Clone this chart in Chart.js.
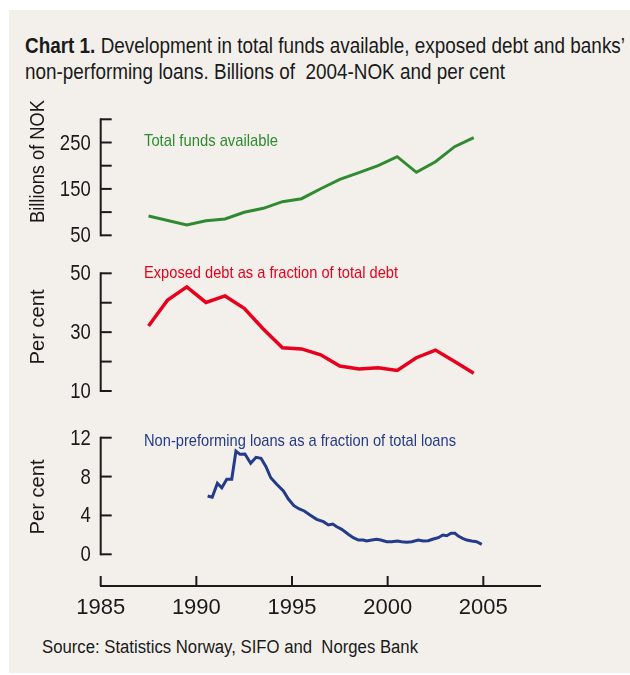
<!DOCTYPE html>
<html>
<head>
<meta charset="utf-8">
<script src="https://cdn.jsdelivr.net/npm/chart.js@4.4.0/dist/chart.umd.min.js"></script>
<style>
  html, body { margin: 0; padding: 0; background: #ffffff; }
  #panel { position: absolute; left: 9px; top: 10px; width: 621px; height: 663px; background: #f3f0eb; }
  #chart { position: absolute; left: 0; top: 0; }
  .txt { position: absolute; white-space: nowrap; color: #1a1a1a; transform-origin: 0 0;
         font-family: 'Liberation Sans', Arial, sans-serif; }
  #title1 { left: 25px; top: 32.7px; font-size: 22px; line-height: 26px; }
  #title2 { left: 25px; top: 58.7px; font-size: 22px; line-height: 26px; }
  #source { left: 41.7px; top: 637px; font-size: 18px; line-height: 20px; }
</style>
</head>
<body>
<div id="panel"></div>
<div id="title1" class="txt" data-w="600"><b>Chart 1.</b> Development in total funds available, exposed debt and banks’</div>
<div id="title2" class="txt" data-w="480">non-performing loans. Billions of&nbsp; 2004-NOK and per cent</div>
<div id="source" class="txt" data-w="376">Source: Statistics Norway, SIFO and&nbsp; Norges Bank</div>
<canvas id="chart" width="630" height="675"></canvas>
<script>
// ---------------- data ----------------
const X_TICKS = [1985, 1990, 1995, 2000, 2005];

const FUNDS_YEARS = [1987.5, 1989.5, 1990.5, 1991.5, 1992.5, 1993.5, 1994.5, 1995.5, 1996.5,
                     1997.5, 1998.5, 1999.5, 2000.5, 2001.5, 2002.5, 2003.5, 2004.5];
const TOTAL_FUNDS = [91.6, 72.2, 81.5, 85.1, 99.6, 108.2, 122.4, 128.9, 150.4,
                     170.7, 184.9, 200.0, 219.4, 185.8, 208.6, 241.0, 260.3];

const DEBT_YEARS = [1987.5, 1988.5, 1989.5, 1990.5, 1991.5, 1992.5, 1993.5, 1994.5, 1995.5,
                    1996.5, 1997.5, 1998.5, 1999.5, 2000.5, 2001.5, 2002.5, 2003.5, 2004.5];
const EXPOSED_DEBT = [32.1, 40.9, 45.4, 40.1, 42.3, 38.1, 31.1, 24.7, 24.3,
                      22.3, 18.5, 17.5, 17.9, 17.0, 21.3, 23.9, 20.0, 16.0];

const NPL_YEARS = [1990.59, 1990.83, 1991.10, 1991.33, 1991.59, 1991.85, 1992.07, 1992.28, 1992.54,
                   1992.84, 1993.12, 1993.38, 1993.64, 1993.89, 1994.20, 1994.55, 1994.81, 1995.10,
                   1995.38, 1995.64, 1995.94, 1996.29, 1996.64, 1996.90, 1997.13, 1997.34, 1997.60,
                   1997.94, 1998.20, 1998.47, 1998.73, 1998.90, 1999.17, 1999.43, 1999.64, 1999.95,
                   2000.21, 2000.50, 2000.73, 2001.00, 2001.26, 2001.60, 2001.86, 2002.12, 2002.39,
                   2002.65, 2002.88, 2003.09, 2003.31, 2003.52, 2003.69, 2003.92, 2004.13, 2004.39,
                   2004.65, 2004.92];
const NPL_SHARE = [6.0, 5.87, 7.31, 6.85, 7.72, 7.72, 10.63, 10.29, 10.32,
                   9.37, 9.98, 9.88, 9.02, 7.88, 7.2, 6.51, 5.69, 5.0,
                   4.66, 4.46, 4.04, 3.6, 3.36, 3.02, 3.12, 2.84, 2.57,
                   2.06, 1.71, 1.47, 1.47, 1.37, 1.47, 1.54, 1.47, 1.3,
                   1.3, 1.37, 1.3, 1.23, 1.3, 1.47, 1.37, 1.4, 1.57,
                   1.71, 1.99, 1.91, 2.16, 2.16, 1.88, 1.65, 1.47, 1.37,
                   1.3, 1.03];

const TOP_TICKS = [50, 100, 150, 200, 250, 300];
const TOP_LABELS = [50, 150, 250];
const MID_TICKS = [10, 20, 30, 40, 50];
const MID_LABELS = [10, 30, 50];
const BOT_TICKS = [0, 4, 8, 12];
const BOT_LABELS = [0, 4, 8, 12];

const SERIES_NAMES = ['Total funds available', 'Exposed debt as a fraction of total debt',
                      'Non-preforming loans as a fraction of total loans'];
const AXIS_TITLES = ['Billions of NOK', 'Per cent', 'Per cent'];

// ---------------- layout ----------------
const AREA = { left: 100.7, right: 540.7, top: 119.3, bottom: 586 };
// pixel band of each panel: [value at top, pixel top, value at bottom, pixel bottom]
const BANDS = {
  yTop: [300, 119.3, 50, 235.3],
  yMid: [50, 273.3, 10, 391.0],
  yBot: [12, 437.7, 0, 554.3]
};
function rangeFor(b) {
  const k = (b[0] - b[2]) / (b[3] - b[1]);
  return { max: b[0] + (b[1] - AREA.top) * k, min: b[2] - (AREA.bottom - b[3]) * k };
}
const FONT = "'Liberation Sans', Arial, sans-serif";
const INK = '#1a1a1a';
const GREEN = '#2f8a32', RED = '#e8001c', NAVY = '#243a8a';
const NARROW_K = 0.84;

// condense HTML text lines to the reference widths
document.querySelectorAll('.txt').forEach(el => {
  const w = el.getBoundingClientRect().width;
  el.style.transform = 'scaleX(' + (parseFloat(el.dataset.w) / w) + ')';
});

function hiddenY(id) {
  const r = rangeFor(BANDS[id]);
  return { type: 'linear', display: false, min: r.min, max: r.max,
           afterBuildTicks: s => { s.ticks = []; } };
}

function drawScaled(ctx, text, x, y, k) {
  ctx.save(); ctx.translate(x, y); ctx.scale(k, 1); ctx.fillText(text, 0, 0); ctx.restore();
}
function drawFit(ctx, text, x, y, width) {
  drawScaled(ctx, text, x, y, width / ctx.measureText(text).width);
}

const axesPlugin = {
  id: 'axesPlugin',
  afterDraw(chart) {
    const ctx = chart.ctx;
    const defs = [
      { id: 'yTop', ticks: TOP_TICKS, labels: TOP_LABELS, title: AXIS_TITLES[0], titleY: 161.5, titleW: 123 },
      { id: 'yMid', ticks: MID_TICKS, labels: MID_LABELS, title: AXIS_TITLES[1], titleY: 327, titleW: 75 },
      { id: 'yBot', ticks: BOT_TICKS, labels: BOT_LABELS, title: AXIS_TITLES[2], titleY: 497, titleW: 75 }
    ];
    const x0 = chart.chartArea.left;
    ctx.save();
    ctx.strokeStyle = INK; ctx.fillStyle = INK; ctx.lineWidth = 2; ctx.lineCap = 'butt';
    defs.forEach(d => {
      const s = chart.scales[d.id];
      const yA = s.getPixelForValue(Math.max(...d.ticks));
      const yB = s.getPixelForValue(Math.min(...d.ticks));
      ctx.beginPath(); ctx.moveTo(x0, yA - 1); ctx.lineTo(x0, yB + 1); ctx.stroke();
      d.ticks.forEach(v => {
        const y = s.getPixelForValue(v);
        ctx.beginPath(); ctx.moveTo(x0, y); ctx.lineTo(x0 + 11, y); ctx.stroke();
      });
      ctx.font = '22px ' + FONT; ctx.textAlign = 'right'; ctx.textBaseline = 'middle';
      d.labels.forEach(v => drawScaled(ctx, String(v), x0 - 10, s.getPixelForValue(v) + 1, NARROW_K));
      ctx.save();
      ctx.translate(38.5, d.titleY); ctx.rotate(-Math.PI / 2);
      ctx.font = '21px ' + FONT; ctx.textAlign = 'center'; ctx.textBaseline = 'middle';
      drawFit(ctx, d.title, 0, 0, d.titleW);
      ctx.restore();
    });
    // x tick marks pointing up
    const sx = chart.scales.x;
    X_TICKS.forEach(v => {
      const x = sx.getPixelForValue(v);
      ctx.beginPath(); ctx.moveTo(x, chart.chartArea.bottom); ctx.lineTo(x, chart.chartArea.bottom - 10); ctx.stroke();
    });
    // series labels
    ctx.font = '17px ' + FONT; ctx.textAlign = 'left'; ctx.textBaseline = 'alphabetic';
    ctx.fillStyle = GREEN; drawFit(ctx, SERIES_NAMES[0], 144, 145.7, 134);
    ctx.fillStyle = RED; drawFit(ctx, SERIES_NAMES[1], 144, 277.5, 254);
    ctx.fillStyle = NAVY; drawFit(ctx, SERIES_NAMES[2], 144, 445.5, 312);
    ctx.restore();
  }
};

const pts = (xs, ys) => xs.map((x, i) => ({ x: x, y: ys[i] }));

new Chart(document.getElementById('chart'), {
  type: 'line',
  data: {
    datasets: [
      { label: SERIES_NAMES[0], data: pts(FUNDS_YEARS, TOTAL_FUNDS), yAxisID: 'yTop',
        borderColor: GREEN, borderWidth: 3, pointRadius: 0, tension: 0 },
      { label: SERIES_NAMES[1], data: pts(DEBT_YEARS, EXPOSED_DEBT), yAxisID: 'yMid',
        borderColor: RED, borderWidth: 3.5, pointRadius: 0, tension: 0 },
      { label: SERIES_NAMES[2], data: pts(NPL_YEARS, NPL_SHARE), yAxisID: 'yBot',
        borderColor: NAVY, borderWidth: 3, pointRadius: 0, tension: 0 }
    ]
  },
  options: {
    responsive: false, animation: false, devicePixelRatio: 1,
    layout: { padding: { left: AREA.left, right: 630 - AREA.right, top: AREA.top, bottom: 675 - AREA.bottom - 40 } },
    plugins: { legend: { display: false }, tooltip: { enabled: false }, title: { display: false } },
    scales: {
      x: { type: 'linear', position: 'bottom', min: 1985, max: 2008,
           grid: { display: false, drawTicks: false },
           border: { display: true, color: INK, width: 2 },
           afterBuildTicks: s => { s.ticks = X_TICKS.map(v => ({ value: v })); },
           afterFit: s => { s.height = 40; },
           ticks: { color: INK, font: { family: FONT, size: 22 }, padding: 9, maxRotation: 0,
                    autoSkip: false, callback: v => String(v) } },
      yTop: hiddenY('yTop'),
      yMid: hiddenY('yMid'),
      yBot: hiddenY('yBot')
    }
  },
  plugins: [axesPlugin]
});
</script>
</body>
</html>
